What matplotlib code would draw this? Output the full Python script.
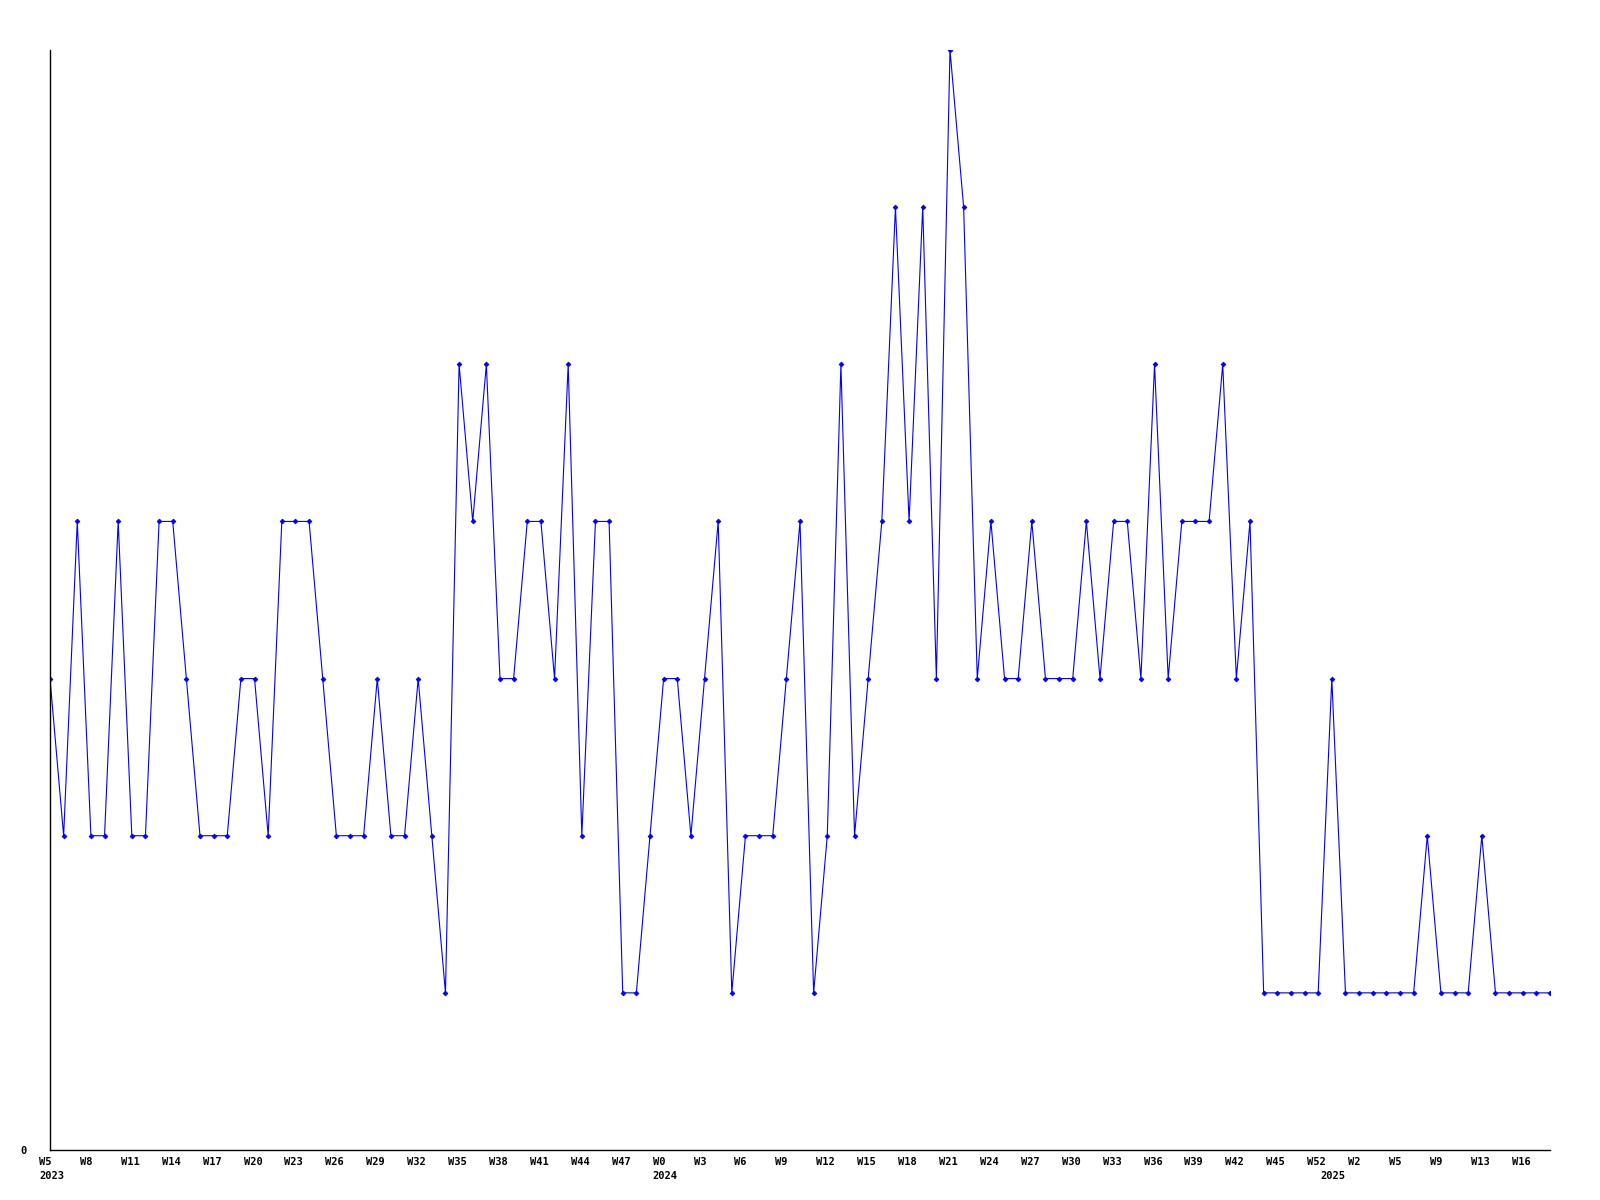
import matplotlib
matplotlib.use('Agg')
import matplotlib.pyplot as plt
import matplotlib.transforms as mtransforms
import numpy as np

# weekly counts, one per point
values = [3, 2, 4, 2, 2, 4, 2, 2, 4, 4,
          3, 2, 2, 2, 3, 3, 2, 4, 4, 4,
          3, 2, 2, 2, 3, 2, 2, 3, 2, 1,
          5, 4, 5, 3, 3, 4, 4, 3, 5, 2,
          4, 4, 1, 1, 2, 3, 3, 2, 3, 4,
          1, 2, 2, 2, 3, 4, 1, 2, 5, 2,
          3, 4, 6, 4, 6, 3, 7, 6, 3, 4,
          3, 3, 4, 3, 3, 3, 4, 3, 4, 4,
          3, 5, 3, 4, 4, 4, 5, 3, 4, 1,
          1, 1, 1, 1, 3, 1, 1, 1, 1, 1,
          1, 2, 1, 1, 1, 2, 1, 1, 1, 1, 1]

# labels shown every third point
week_labels = ['W5', 'W8', 'W11', 'W14', 'W17', 'W20', 'W23', 'W26', 'W29', 'W32',
               'W35', 'W38', 'W41', 'W44', 'W47',
               'W0', 'W3', 'W6', 'W9', 'W12', 'W15', 'W18', 'W21', 'W24', 'W27',
               'W30', 'W33', 'W36', 'W39', 'W42', 'W45', 'W52',
               'W2', 'W5', 'W9', 'W13', 'W16']
year_labels = ['2023', '2024', '2025']
year_pos = [0, 45, 94]

x = np.arange(len(values))

fig = plt.figure(figsize=(16, 12), dpi=100)
ax = fig.add_axes([50 / 1600, 50 / 1200, 1500 / 1600, 1100 / 1200])

ax.plot(x, values, color='#0000ff', lw=0.8, marker='D', ms=2.4,
        markeredgewidth=0.6)

ax.set_xlim(0, len(values) - 1)
ax.set_ylim(0, max(values))

for s in ['top', 'right']:
    ax.spines[s].set_visible(False)
for s in ['left', 'bottom']:
    ax.spines[s].set_linewidth(1.0)
    ax.spines[s].set_color('black')

font = dict(family='DejaVu Sans Mono', weight='bold', size=7.5)

ax.set_yticks([0])
ax.set_yticklabels(['0'], **font)
ax.tick_params(axis='y', length=0, pad=17)

ax.xaxis.remove_overlapping_locs = False
ax.set_xticks(x[::3][:len(week_labels)])
ax.set_xticklabels(week_labels, **font)
ax.set_xticks(year_pos, minor=True)
ax.set_xticklabels(year_labels, minor=True, **font)
ax.tick_params(axis='x', which='major', length=0, pad=5)
ax.tick_params(axis='x', which='minor', length=0, pad=15)

shift = mtransforms.ScaledTranslation(-0.11, 0, fig.dpi_scale_trans)
for lab in ax.get_xticklabels() + ax.get_xticklabels(minor=True):
    lab.set_ha('left')
    lab.set_transform(lab.get_transform() + shift)

fig.savefig('out.png', dpi=100)
